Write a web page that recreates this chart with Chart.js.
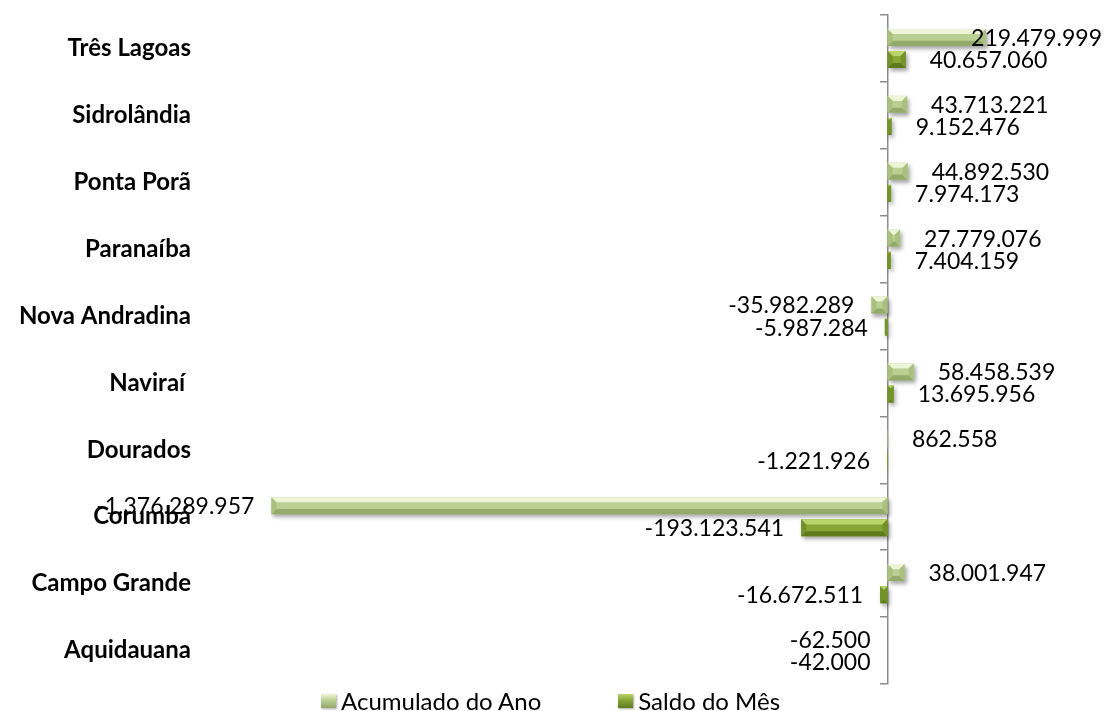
<!DOCTYPE html>
<html lang="pt-br">
<head>
<meta charset="UTF-8">
<title>Saldo por município</title>
<script src="https://cdn.jsdelivr.net/npm/chart.js"></script>
<style>
  body { margin: 0; background: #fff; font-family: Lato, sans-serif; }
  .quadro { position: relative; width: 1106px; height: 711px; }
  #grafico { position: absolute; left: 0; top: 0; }
  .legenda { position: absolute; left: 321px; top: 686px; display: flex; align-items: center; font-size: 24px; line-height: 30px; color: #000; }
  .legenda .item { display: flex; align-items: center; margin-right: 77px; }
  .legenda .caixa { display: inline-block; flex: 0 0 15px; width: 15px; height: 14px; margin-right: 5px; box-sizing: border-box; box-shadow: 1px 1px 2px rgba(0,0,0,0.35); }
</style>
</head>
<body>
<div class="quadro">
  <canvas id="grafico" width="1106" height="711"></canvas>
  <div class="legenda" id="legenda"></div>
</div>

<script>
  // dados (de cima para baixo)
  const municipios = ["Três Lagoas", "Sidrolândia", "Ponta Porã", "Paranaíba", "Nova Andradina",
                      "Naviraí ", "Dourados", "Corumbá", "Campo Grande", "Aquidauana"];
  const acumuladoAno = [219479999, 43713221, 44892530, 27779076, -35982289,
                        58458539, 862558, -1376289957, 38001947, -62500];
  const saldoMes = [40657060, 9152476, 7974173, 7404159, -5987284,
                    13695956, -1221926, -193123541, -16672511, -42000];
  const series = ["Acumulado do Ano", "Saldo do Mês"];

  const cores = [
    { base: "#bccf93", claro: "#eef5d6", escuro: "#93aa6b", lado: "#a9c07f" },
    { base: "#86a735", claro: "#b9d46a", escuro: "#5e7a1c", lado: "#73922a" }
  ];

  function formatar(v) {
    const s = Math.abs(v).toString().replace(/\B(?=(\d{3})+(?!\d))/g, ".");
    return (v < 0 ? "-" : "") + s;
  }

  // sombra nas barras
  const sombra = {
    id: "sombra",
    beforeDatasetsDraw(chart) {
      const ctx = chart.ctx;
      ctx.save();
      ctx.shadowColor = "rgba(0,0,0,0.35)";
      ctx.shadowBlur = 4;
      ctx.shadowOffsetX = 2;
      ctx.shadowOffsetY = 3;
    },
    afterDatasetsDraw(chart) {
      chart.ctx.restore();
    }
  };

  // efeito de chanfro + rótulos de valor
  const chanfro = {
    id: "chanfro",
    afterDatasetsDraw(chart) {
      const ctx = chart.ctx;
      ctx.save();
      chart.data.datasets.forEach((ds, i) => {
        const meta = chart.getDatasetMeta(i);
        const c = cores[i];
        meta.data.forEach((el) => {
          const p = el.getProps(["x", "y", "base", "height"], true);
          const x0 = Math.min(p.x, p.base), x1 = Math.max(p.x, p.base);
          const y0 = p.y - p.height / 2, y1 = p.y + p.height / 2;
          const w = x1 - x0, h = y1 - y0;
          if (w < 0.5) return;
          const b = Math.min(h * 0.3, w / 2);
          ctx.fillStyle = c.claro;
          ctx.beginPath();
          ctx.moveTo(x0, y0); ctx.lineTo(x1, y0); ctx.lineTo(x1 - b, y0 + b); ctx.lineTo(x0 + b, y0 + b);
          ctx.closePath(); ctx.fill();
          ctx.fillStyle = c.escuro;
          ctx.beginPath();
          ctx.moveTo(x0, y1); ctx.lineTo(x1, y1); ctx.lineTo(x1 - b, y1 - b); ctx.lineTo(x0 + b, y1 - b);
          ctx.closePath(); ctx.fill();
          ctx.fillStyle = c.lado;
          ctx.beginPath();
          ctx.moveTo(x0, y0); ctx.lineTo(x0 + b, y0 + b); ctx.lineTo(x0 + b, y1 - b); ctx.lineTo(x0, y1);
          ctx.closePath(); ctx.fill();
          ctx.beginPath();
          ctx.moveTo(x1, y0); ctx.lineTo(x1 - b, y0 + b); ctx.lineTo(x1 - b, y1 - b); ctx.lineTo(x1, y1);
          ctx.closePath(); ctx.fill();
        });
      });

      ctx.font = "23px Lato";
      ctx.fillStyle = "#000";
      ctx.textBaseline = "middle";
      ctx.textAlign = "left";
      chart.data.datasets.forEach((ds, i) => {
        const meta = chart.getDatasetMeta(i);
        meta.data.forEach((el, j) => {
          const v = ds.data[j];
          const txt = formatar(v);
          const larg = ctx.measureText(txt).width;
          let esq;
          if (v >= 0) {
            esq = el.x + 24;
            if (esq + larg > 1102) esq = 1102 - larg;
          } else {
            esq = el.x - 17 - larg;
          }
          ctx.fillText(txt, esq, el.y + 1);
        });
      });
      ctx.restore();
    }
  };

  new Chart(document.getElementById("grafico"), {
    type: "bar",
    data: {
      labels: municipios,
      datasets: [
        { label: series[0], data: acumuladoAno, backgroundColor: cores[0].base, borderWidth: 0 },
        { label: series[1], data: saldoMes, backgroundColor: cores[1].base, borderWidth: 0 }
      ]
    },
    options: {
      indexAxis: "y",
      responsive: false,
      animation: false,
      categoryPercentage: 0.66,
      barPercentage: 0.77,
      layout: { padding: { top: 15, right: 17, bottom: 27, left: 0 } },
      plugins: { legend: { display: false }, tooltip: { enabled: false } },
      scales: {
        x: { type: "linear", display: false, min: -1.5e9, max: 0.45e9 },
        y: {
          type: "category",
          position: "left",
          grid: { display: false, drawTicks: true, tickLength: 25 },
          border: { display: false },
          ticks: { color: "#000", padding: 0, font: { family: "Lato", size: 24, weight: "bold" } },
          afterFit(s) { s.width = 216; }
        },
        y2: {
          type: "category",
          labels: municipios,
          offset: true,
          position: { x: 0 },
          ticks: { display: false, padding: 0 },
          grid: { offset: true, drawOnChartArea: false, tickLength: 7, color: "#8c8c8c", lineWidth: 1.5 },
          border: { color: "#8c8c8c", width: 1.5 }
        }
      }
    },
    plugins: [sombra, chanfro]
  });

  const leg = document.getElementById("legenda");
  series.forEach((nome, i) => {
    const item = document.createElement("div");
    item.className = "item";
    const cx = document.createElement("span");
    cx.className = "caixa";
    cx.style.background = "linear-gradient(" + cores[i].claro + " 0%, " + cores[i].base + " 45%, " + cores[i].escuro + " 100%)";
    const t = document.createElement("span");
    t.textContent = nome;
    item.appendChild(cx);
    item.appendChild(t);
    leg.appendChild(item);
  });
</script>
</body>
</html>
